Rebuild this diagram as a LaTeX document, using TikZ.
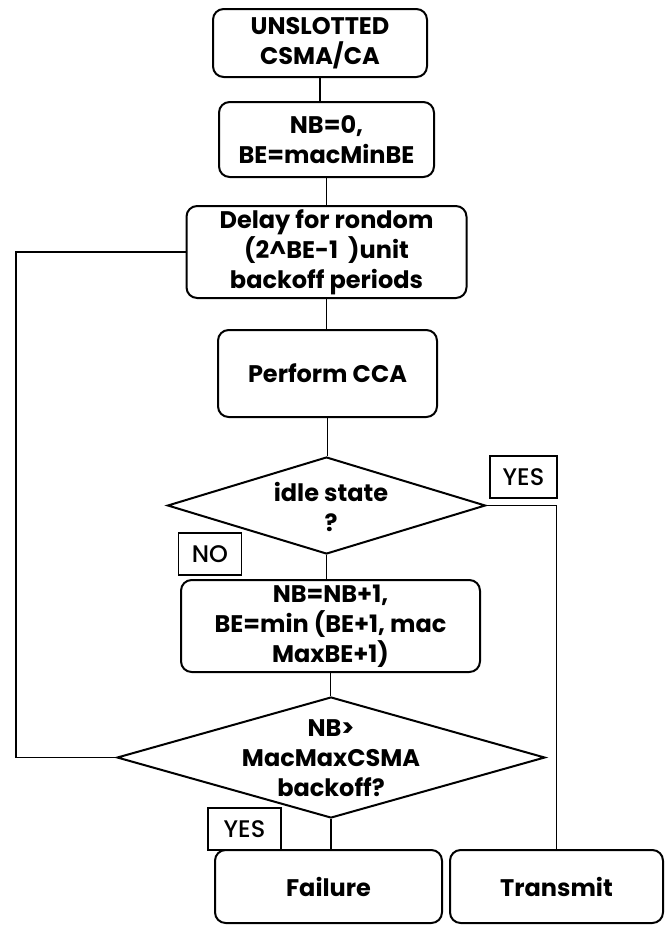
\documentclass[tikz,border=0pt]{standalone}
\usepackage{fontspec}
\setmainfont{Poppins}
\newfontfamily\tagfont{Poppins}[UprightFont=* Medium]
\usetikzlibrary{shapes.geometric}

\tikzset{
  stepbox/.style={draw, line width=1.5pt, rounded corners=8pt, align=center,
    inner sep=0pt, font=\bfseries\fontsize{18}{22.5}\selectfont},
  decision/.style={draw, diamond, line width=1.5pt, inner sep=0pt},
  decitext/.style={align=center, inner sep=0pt, font=\bfseries\fontsize{18}{22.5}\selectfont},
  tag/.style={draw, line width=1.3pt, inner sep=0pt, minimum height=31.5pt,
    font=\tagfont\fontsize{18}{20}\selectfont},
  link/.style={line width=1.3pt}
}

\begin{document}
\begin{tikzpicture}[x=0.75pt,y=0.75pt,yscale=-1,xscale=1]
        \useasboundingbox (0,0) rectangle (665,925);

        %Rounded Rect
        \node [stepbox, minimum width=160.5pt, minimum height=51pt] (start) at (320,43) {UNSLOTTED\\CSMA/CA};
        %Rounded Rect
        \node [stepbox, minimum width=161.25pt, minimum height=56.25pt] (init) at (326.5,139.5) {NB=0,\\BE=macMinBE};
        %Rounded Rect
        \node [stepbox, minimum width=210pt, minimum height=69pt] (delay) at (326.5,252) {Delay for rondom\\(2\textasciicircum BE-1\ \ )unit\\backoff periods};
        %Rounded Rect
        \node [stepbox, minimum width=164.25pt, minimum height=65.25pt] (cca) at (327.5,373.5) {Perform CCA};
        %Diamond
        \node [decision, minimum width=238.5pt, minimum height=72.75pt] (idle) at (326.5,505.5) {};
        % Text Node
        \node [decitext] (idletxt) at (331,507) {idle state\\?};
        %Rounded Rect
        \node [stepbox, minimum width=224.25pt, minimum height=69pt] (update) at (330.5,626) {NB=NB+1,\\BE=min (BE+1, mac\\MaxBE+1)};
        %Diamond
        \node [decision, minimum width=321pt, minimum height=90.75pt] (limit) at (331,757.5) {};
        % Text Node
        \node [decitext] (limittxt) at (331,758) {NB>\\MacMaxCSMA\\backoff?};
        %Rounded Rect
        \node [stepbox, minimum width=170.25pt, minimum height=54.75pt] (failure) at (328.5,886.5) {Failure};
        %Rounded Rect
        \node [stepbox, minimum width=159.75pt, minimum height=54.75pt] (transmit) at (556.5,886.5) {Transmit};

        % Text Node
        \node [tag, minimum width=50.25pt] (yesidle) at (523.5,477) {YES};
        % Text Node
        \node [tag, minimum width=47.25pt] (noidle) at (210,554) {NO};
        % Text Node
        \node [tag, minimum width=54.75pt] (yeslimit) at (244.5,829) {YES};

        %Straight Lines
        \draw [link] (start.south) -- (start.south |- init.north);
        \draw [link] (init.south) -- (init.south |- delay.north);
        \draw [link] (delay.south) -- (delay.south |- cca.north);
        \draw [link] (cca.south) -- (cca.south |- idle.north);
        \draw [link] (idle.south) -- (idle.south |- update.north);
        \draw [link] (update.south) -- (update.south |- limit.north);
        \draw [link] (limit.south) -- (limit.south |- failure.north);
        %Straight Lines
        \coordinate (loop) at (16,252);
        \draw [link] (limit.west) -| (loop) -- (delay.west);
        \draw [link] (idle.east) -| (transmit.north);

\end{tikzpicture}
\end{document}
